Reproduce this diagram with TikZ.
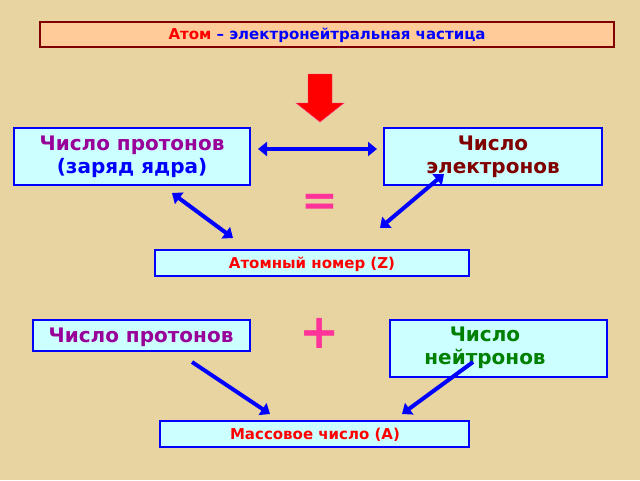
\documentclass[tikz,border=0pt]{standalone}
\usepackage{fontspec}
\setmainfont{DejaVu Sans}
\usetikzlibrary{arrows.meta}
\definecolor{bg}{HTML}{E8D4A0}
\definecolor{boxf}{HTML}{CCFFFF}
\definecolor{peach}{HTML}{FFCC99}
\definecolor{dred}{HTML}{800000}
\definecolor{purp}{HTML}{990099}
\definecolor{pinkc}{HTML}{FF3399}
\definecolor{gr}{HTML}{008000}
\tikzset{
 bx/.style={draw=blue,line width=2.2pt,fill=boxf},
 tx/.style={font=\bfseries\fontsize{20}{23}\selectfont,align=center},
 sm/.style={font=\bfseries\fontsize{15}{17}\selectfont,text=red},
 ar/.style={blue,line width=4pt,-{Triangle[length=9pt,width=14pt]}},
 dar/.style={blue,line width=4pt,{Triangle[length=9pt,width=14pt]}-{Triangle[length=9pt,width=14pt]}}
}
\begin{document}
\begin{tikzpicture}[x=1pt,y=-1pt]
\fill[bg] (0,0) rectangle (640,480);
\useasboundingbox (0,0) rectangle (640,480);
\draw[draw=dred,line width=2pt,fill=peach] (40,22) rectangle (614,47);
\node (t) at (327,35) {\bfseries\fontsize{15}{17}\selectfont\textcolor{red}{Атом} \textcolor{blue}{– электронейтральная частица}};
\fill[red,draw=pinkc] (308,74) -- (332,74) -- (332,103) -- (344,103) -- (320,122) -- (296,103) -- (308,103) -- cycle;
\draw[bx] (14,128) rectangle (250,185);
\node[tx] (p1) at (132,157) {\textcolor{purp}{Число протонов}\\\textcolor{blue}{(заряд ядра)}};
\draw[bx] (384,128) rectangle (602,185);
\node[tx,text=dred] (e) at (493,157) {Число\\электронов};
\draw[bx] (155,250) rectangle (469,276);
\node[sm] (z) at (312,264) {Атомный номер (Z)};
\draw[bx] (33,320) rectangle (250,351);
\node[tx,text=purp] (p2) at (141,337) {Число протонов};
\draw[bx] (390,320) rectangle (607,377);
\node[tx,text=gr] (n) at (485,348) {Число\\нейтронов};
\draw[bx] (160,421) rectangle (469,447);
\node[sm] (a) at (315,435) {Массовое число (А)};
\node[text=pinkc,font=\bfseries\fontsize{44}{44}\selectfont] (eq) at (320,205) {=};
\node[text=pinkc,font=\bfseries\fontsize{48}{48}\selectfont] (pl) at (320,333) {+};
\coordinate (h1) at (258,149); \coordinate (h2) at (377,149);
\coordinate (d1) at (172,193); \coordinate (d2) at (233,238);
\coordinate (d3) at (444,174); \coordinate (d4) at (380,228);
\coordinate (s1) at (192,362); \coordinate (s2) at (270,414);
\coordinate (s3) at (473,362); \coordinate (s4) at (402,414);
\draw[dar] (h1) -- (h2);
\draw[dar] (d1) -- (d2);
\draw[dar] (d3) -- (d4);
\draw[ar] (s1) -- (s2);
\draw[ar] (s3) -- (s4);
\end{tikzpicture}
\end{document}
